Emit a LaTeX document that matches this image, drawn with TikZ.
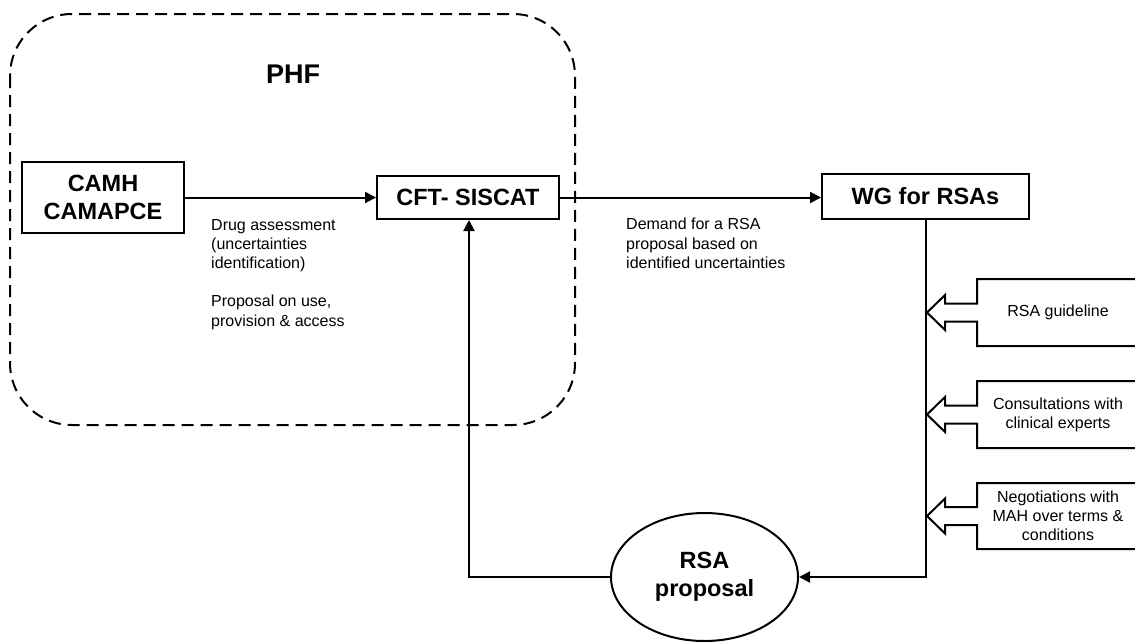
\documentclass[tikz,border=0pt]{standalone}
\usepackage{fontspec}
\setmainfont{Liberation Sans}
\usetikzlibrary{arrows.meta,shapes.geometric}
\tikzset{
  ln/.style={line width=2pt},
  arr/.style={ln,-{Triangle[length=11pt,width=11pt]}},
  titlebox/.style={draw,ln,inner sep=0pt,align=center,font=\fontsize{23.5}{28}\selectfont\bfseries},
  small/.style={inner sep=0pt,align=left,font=\fontsize{16}{19.2}\selectfont},
  smallc/.style={inner sep=0pt,align=center,font=\fontsize{16}{19.2}\selectfont},
  phfbox/.style={draw,line width=2pt,dash pattern=on 12pt off 7pt,rounded corners=62pt}
}
\newcommand\rsainbox[4]{%
  \draw[ln,line join=miter] (1137,#2) -- (977,#2) -- (977,{(#2+#3)/2-9}) -- (945,{(#2+#3)/2-9})
    -- (945,{(#2+#3)/2-17.5}) -- (927,{(#2+#3)/2}) -- (945,{(#2+#3)/2+17.5}) -- (945,{(#2+#3)/2+9})
    -- (977,{(#2+#3)/2+9}) -- (977,#3) -- (1137,#3);
  \node[smallc] (#1) at (1058,{(#2+#3)/2}) {#4};}
\begin{document}
\begin{tikzpicture}[x=1pt,y=-1pt]
\useasboundingbox (0,0) rectangle (1135,641);
\fill[white] (0,0) rectangle (1135,641);
% PHF container
\draw[phfbox] (10,14) rectangle (575,425);
\node[font=\fontsize{27}{32}\selectfont\bfseries] (phf) at (293,74) {PHF};
% main nodes
\node[titlebox,minimum width=162pt,minimum height=71pt] (camh) at (103,197.5) {CAMH\\CAMAPCE};
\node[titlebox,minimum width=182pt,minimum height=43pt] (cft) at (468,197.5) {CFT- SISCAT};
\node[titlebox,minimum width=207pt,minimum height=45pt] (wg) at (925.5,196) {WG for RSAs};
\node[draw,ln,ellipse,inner sep=0pt,minimum width=187pt,minimum height=128pt,align=center,
      font=\fontsize{23.5}{28}\selectfont\bfseries] (rsa) at (704.5,577) {RSA\\proposal};
% connectors
\draw[arr] (camh.east) -- (cft.west);
\draw[arr] (cft.east) -- (cft.east -| wg.west);
\coordinate (wgdown) at (925.5,577);
\draw[arr] (wg.south) -- (wgdown) -- (rsa.east);
\coordinate (lcorner) at (469,577);
\draw[arr] (rsa.west) -- (lcorner) -- (cft.south -| lcorner);
% labels
\node[small,anchor=north west] (lab1) at (211,219) {Drug assessment\\(uncertainties\\identification)\\[19pt]Proposal on use,\\provision \& access};
\node[small,anchor=north west] (lab2) at (626,218) {Demand for a RSA\\proposal based on\\identified uncertainties};
% input boxes
\rsainbox{guide}{279}{346}{RSA guideline}
\rsainbox{consult}{381}{448}{Consultations with\\clinical experts}
\rsainbox{nego}{483}{549}{Negotiations with\\MAH over terms \&\\conditions}
\end{tikzpicture}
\end{document}
